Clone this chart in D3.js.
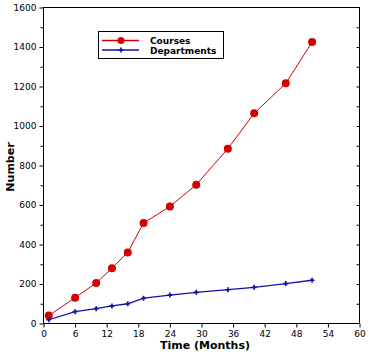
<!DOCTYPE html>
<html><head><meta charset="utf-8">
<script src="https://cdn.jsdelivr.net/npm/d3@7"></script>
<style>body{margin:0;background:#fff}svg{display:block}</style>
</head><body>
<script>
const months = [1, 6, 10, 13, 16, 19, 24, 29, 35, 40, 46, 51];
const courses = [40, 131, 205, 280, 360, 509, 592, 703, 885, 1064, 1216, 1425];
const departments = [19, 60, 75, 89, 100, 128, 144, 158, 171, 183, 202, 219];
const xTicks = [0, 6, 12, 18, 24, 30, 36, 42, 48, 54, 60];
const yTicks = [0, 200, 400, 600, 800, 1000, 1200, 1400, 1600];
const seriesNames = ["Courses", "Departments"];

const W = 369, H = 355;
const m = {l: 43.5, r: 9.5, t: 7.5, b: 31.5};
const svg = d3.select("body").append("svg").attr("width", W).attr("height", H);
const x = d3.scaleLinear().domain([0, 60]).range([m.l, W - m.r]);
const y = d3.scaleLinear().domain([0, 1600]).range([H - m.b, m.t]);
const font = "'DejaVu Sans', Verdana, sans-serif";

// frame
svg.append("rect").attr("x", x(0)).attr("y", y(1600)).attr("width", x(60) - x(0)).attr("height", y(0) - y(1600))
  .attr("fill", "none").attr("stroke", "#000").attr("stroke-width", 1);

// left axis
svg.append("g").attr("transform", `translate(${x(0)},0)`)
  .call(d3.axisLeft(y).tickValues(yTicks).tickSize(4).tickPadding(3).tickFormat(d3.format("d")));
svg.append("g").attr("transform", `translate(${x(0)},0)`)
  .call(d3.axisLeft(y).tickValues(d3.range(100, 1600, 200)).tickSize(3).tickFormat(""));
// right axis inward ticks
svg.append("g").attr("transform", `translate(${x(60)},0)`)
  .call(d3.axisLeft(y).tickValues(d3.range(100, 1600, 100)).tickSize(3).tickFormat(""));
// bottom axis
svg.append("g").attr("transform", `translate(0,${y(0)})`)
  .call(d3.axisBottom(x).tickValues(xTicks).tickSize(4).tickPadding(3));
svg.selectAll(".domain").remove();
svg.selectAll(".tick line").attr("stroke", "#000");
svg.selectAll(".tick text").attr("font-family", font).attr("font-size", "9px").attr("fill", "#000");

// axis titles
svg.append("text").attr("x", 205).attr("y", 349).attr("text-anchor", "middle")
  .attr("font-family", font).attr("font-weight", "bold").attr("font-size", "11px").text("Time (Months)");
svg.append("text").attr("transform", "translate(14,167) rotate(-90)").attr("text-anchor", "middle")
  .attr("font-family", font).attr("font-weight", "bold").attr("font-size", "11px").text("Number");

const red = "#d20000", blue = "#1010a8";
const line = d3.line().x(d => x(d[0])).y(d => y(d[1]));
const cData = months.map((mo, i) => [mo, courses[i]]);
const dData = months.map((mo, i) => [mo, departments[i]]);

svg.append("path").datum(cData).attr("d", line).attr("fill", "none").attr("stroke", red).attr("stroke-width", 1);
svg.append("path").datum(dData).attr("d", line).attr("fill", "none").attr("stroke", blue).attr("stroke-width", 1.3);
svg.selectAll("circle.c").data(cData).enter().append("circle").attr("class", "c")
  .attr("cx", d => x(d[0])).attr("cy", d => y(d[1])).attr("r", 4).attr("fill", red);
const plus = d3.symbol().type(d3.symbolCross).size(14);
svg.selectAll("path.d").data(dData).enter().append("path").attr("class", "d")
  .attr("transform", d => `translate(${x(d[0])},${y(d[1])})`).attr("d", plus).attr("fill", blue);

// legend
const lg = svg.append("g");
lg.append("rect").attr("x", 98.5).attr("y", 31.5).attr("width", 125).attr("height", 27)
  .attr("fill", "#fff").attr("stroke", "#000").attr("stroke-width", 1);
[[red, 40.5], [blue, 50]].forEach(([c, yy], i) => {
  lg.append("line").attr("x1", 102).attr("x2", 139).attr("y1", yy).attr("y2", yy).attr("stroke", c).attr("stroke-width", 1.3);
  if (i === 0) lg.append("circle").attr("cx", 121).attr("cy", yy).attr("r", 3.5).attr("fill", c);
  else lg.append("path").attr("transform", `translate(121,${yy})`).attr("d", plus).attr("fill", c);
  lg.append("text").attr("x", 150).attr("y", yy + 3.5).attr("font-family", font).attr("font-weight", "bold")
    .attr("font-size", "9px").text(seriesNames[i]);
});
</script>
</body></html>
